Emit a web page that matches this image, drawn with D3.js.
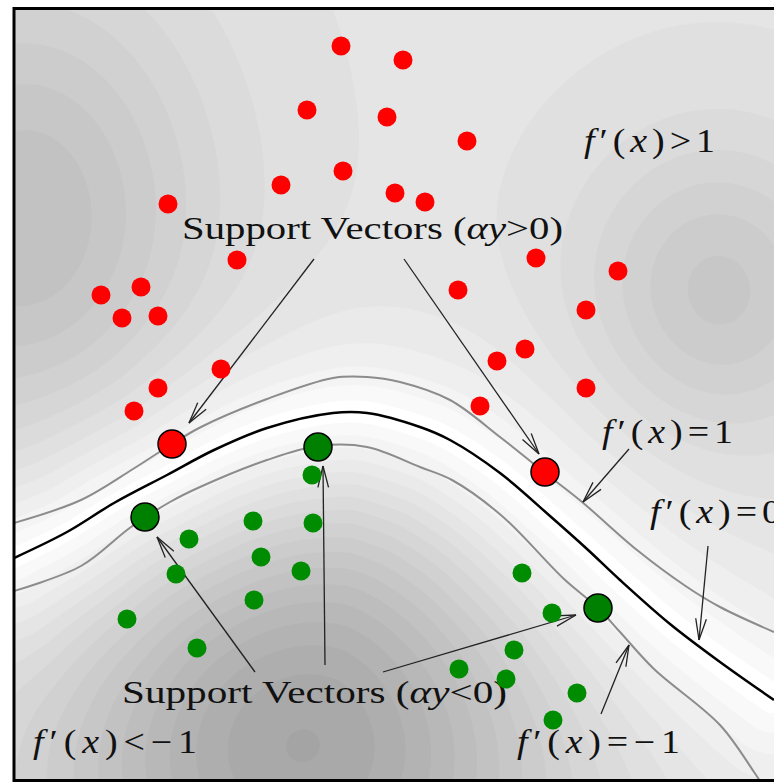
<!DOCTYPE html>
<html>
<head>
<meta charset="utf-8">
<script src="https://cdn.jsdelivr.net/npm/d3@7"></script>
<style>
  html, body { margin: 0; padding: 0; background: #fff; overflow: hidden; }
  text { font-family: "Liberation Serif", "DejaVu Serif", serif; fill: #111; }
</style>
</head>
<body>
<script>
// plot units: x 0..760 from the left frame, y 0..773 up from the bottom frame

// class +1 (red) and class -1 (green) samples
const positives = [[327,735],[389,721],[293,671],[373,664],[453,640],[329,610],[267,596],
  [381,588],[411,579],[154,577],[223,521],[522,523],[604,510],[87,486],[127,494],[108,463],
  [144,465],[444,491],[572,471],[511,432],[483,420],[207,412],[144,393],[572,393],[120,370],[466,375]];
const negatives = [[298,306],[175,242],[239,260],[299,258],[247,224],[162,207],[287,210],
  [240,181],[113,162],[183,133],[508,208],[538,168],[500,131],[445,112],[492,102],[563,88],[539,61]];
const posSupport = [[158,337],[531,309]];
const negSupport = [[131,264],[304,334],[584,173]];

// level curves f'(x)=0, +1, -1
const boundary = [[0,223],[53,249],[100,278],[153,306],[200,331],[253,353],[319,368],[353,368],
  [406,354],[436,341],[486,308],[536,265],[573,232],[606,201],[656,157],[706,119],[760,81]];
const marginPos = [[0,258],[67,281],[119,312],[158,337],[187,354],[253,382],[319,403],[353,404],
  [386,399],[436,381],[486,344],[531,308],[568,279],[623,231],[673,194],[706,174],[760,149]];
const marginNeg = [[0,190],[67,215],[117,254],[156,279],[186,294],[253,321],[304,335],[353,334],
  [406,314],[438,301],[488,265],[550,202],[584,173],[606,149],[640,112],[706,56],[740,9],[746,0]];

// annotation arrows [from, to]
const arrows = [
  [[300,522],[175,358]], [[390,522],[525,327]],
  [[311,116],[309,315]], [[241,109],[143,244]], [[369,109],[562,166]],
  [[615,332],[569,279]], [[694,235],[685,141]], [[587,67],[615,136]]
];

const labelTexts = ["Support Vectors (αy>0)", "Support Vectors (αy<0)",
  "f′(x)>1", "f′(x)=1", "f′(x)=0", "f′(x)<−1", "f′(x)=−1"];
const labelAt = [[168,542],[108,78],[570,629],[588,338],[636,258],[19,28],[503,28]];
const labelWidth = [381, 385, 131, 131, 131, 164, 163];

// shading of |f'(x)|: dark lobes away from the boundary
const lobes = [
  {c: [11,556], a: 36, sx: 130, sy: 175},
  {c: [703,488], a: 28, sx: 95, sy: 105},
  {c: [286,41], a: 62, sx: 180, sy: 180}
];
const shadeBase = 28, shadeScale = 110;

const width = 774, height = 783;
const x = d3.scaleLinear().domain([0, 760]).range([14, 774]);
const y = d3.scaleLinear().domain([0, 773]).range([781, 8]);

const svg = d3.select('body').append('svg')
  .attr('width', width)
  .attr('height', height);

svg.append('defs').append('clipPath').attr('id', 'plot')
  .append('rect').attr('x', 15).attr('y', 9).attr('width', 800).attr('height', 771);

const plot = svg.append('g').attr('clip-path', 'url(#plot)');
plot.append('rect').attr('x', 14).attr('y', 8).attr('width', 800).attr('height', 774).attr('fill', '#fff');

const line = d3.line().x(d => x(d[0])).y(d => y(d[1])).curve(d3.curveCatmullRom.alpha(0.5));

// sample the boundary curve for the distance field
const probe = svg.append('path').attr('d', line(boundary)).attr('fill', 'none');
const node = probe.node();
const total = node.getTotalLength();
const samples = d3.range(0, total, 3).map(l => node.getPointAtLength(l));
probe.remove();

const cell = 3, x0 = 14, y0 = 8;
const nx = Math.ceil(780 / cell) + 1, ny = Math.ceil(775 / cell) + 1;
const lobePx = lobes.map(b => ({cx: x(b.c[0]), cy: y(b.c[1]), a: b.a, sx2: 2 * b.sx * b.sx, sy2: 2 * b.sy * b.sy}));
const values = new Float64Array(nx * ny);
for (let j = 0; j < ny; j++) {
  for (let i = 0; i < nx; i++) {
    const px = x0 + i * cell, py = y0 + j * cell;
    let dmin = Infinity;
    for (const p of samples) {
      const dx = px - p.x, dy = py - p.y;
      const d = dx * dx + dy * dy;
      if (d < dmin) dmin = d;
    }
    let amp = shadeBase;
    for (const b of lobePx) {
      const dx = px - b.cx, dy = py - b.cy;
      amp += b.a * Math.exp(-(dx * dx) / b.sx2 - (dy * dy) / b.sy2);
    }
    values[j * nx + i] = amp * Math.tanh(Math.sqrt(dmin) / shadeScale);
  }
}

const thresholds = d3.range(4, 125, 5);
const bands = d3.contours().size([nx, ny]).thresholds(thresholds)(values);
const toPx = d3.geoPath(d3.geoTransform({
  point(px, py) { this.stream.point(x0 + (px - 0.5) * cell, y0 + (py - 0.5) * cell); }
}));

plot.append('g').selectAll('path')
  .data(bands)
  .join('path')
  .attr('d', toPx)
  .attr('fill', d => { const g = Math.round(255 - d.value - 2); return `rgb(${g},${g},${g})`; });

// level curves
plot.append('path').attr('d', line(marginPos))
  .attr('fill', 'none').attr('stroke', '#8c8c8c').attr('stroke-width', 2);
plot.append('path').attr('d', line(marginNeg))
  .attr('fill', 'none').attr('stroke', '#8c8c8c').attr('stroke-width', 2);
plot.append('path').attr('d', line(boundary))
  .attr('fill', 'none').attr('stroke', '#000').attr('stroke-width', 2.5);

// arrows with open heads
const head = 22, spread = 14 * Math.PI / 180;
arrows.forEach(([a, b]) => {
  const x1 = x(a[0]), y1 = y(a[1]), x2 = x(b[0]), y2 = y(b[1]);
  const ang = Math.atan2(y1 - y2, x1 - x2);
  const g = plot.append('g').attr('stroke', '#222').attr('stroke-width', 1.3).attr('fill', 'none');
  g.append('line').attr('x1', x1).attr('y1', y1).attr('x2', x2).attr('y2', y2);
  [-spread, spread].forEach(s => {
    g.append('line').attr('x1', x2).attr('y1', y2)
      .attr('x2', x2 + head * Math.cos(ang + s))
      .attr('y2', y2 + head * Math.sin(ang + s));
  });
});

// labels: prose ones stretched, math ones widened a bit and spaced out
const italic = new Set(['f', 'x', 'y', 'α']);
const widen = 1.15;
labelTexts.forEach((t, k) => {
  const prose = t.startsWith('Support');
  const sx = prose ? 1 : widen;
  const txt = plot.append('text')
    .attr('transform', `translate(${x(labelAt[k][0])},${y(labelAt[k][1])}) scale(${sx},1)`)
    .attr('font-size', prose ? 31 : 33)
    .attr('textLength', labelWidth[k] / sx)
    .attr('lengthAdjust', prose ? 'spacingAndGlyphs' : 'spacing');
  Array.from(t).forEach(ch => {
    txt.append('tspan').attr('font-style', italic.has(ch) ? 'italic' : 'normal').text(ch);
  });
});

// samples
plot.append('g').selectAll('circle').data(positives).join('circle')
  .attr('cx', d => x(d[0])).attr('cy', d => y(d[1])).attr('r', 9.5).attr('fill', '#ff0000');
plot.append('g').selectAll('circle').data(negatives).join('circle')
  .attr('cx', d => x(d[0])).attr('cy', d => y(d[1])).attr('r', 9.5).attr('fill', '#008c00');
plot.append('g').selectAll('circle').data(posSupport).join('circle')
  .attr('cx', d => x(d[0])).attr('cy', d => y(d[1])).attr('r', 14)
  .attr('fill', '#ff0000').attr('stroke', '#000').attr('stroke-width', 1.5);
plot.append('g').selectAll('circle').data(negSupport).join('circle')
  .attr('cx', d => x(d[0])).attr('cy', d => y(d[1])).attr('r', 14)
  .attr('fill', '#008000').attr('stroke', '#000').attr('stroke-width', 1.5);

// frame
svg.append('rect').attr('x', 14).attr('y', 8.5).attr('width', 800).attr('height', 772)
  .attr('fill', 'none').attr('stroke', '#000').attr('stroke-width', 3);
</script>
</body>
</html>
